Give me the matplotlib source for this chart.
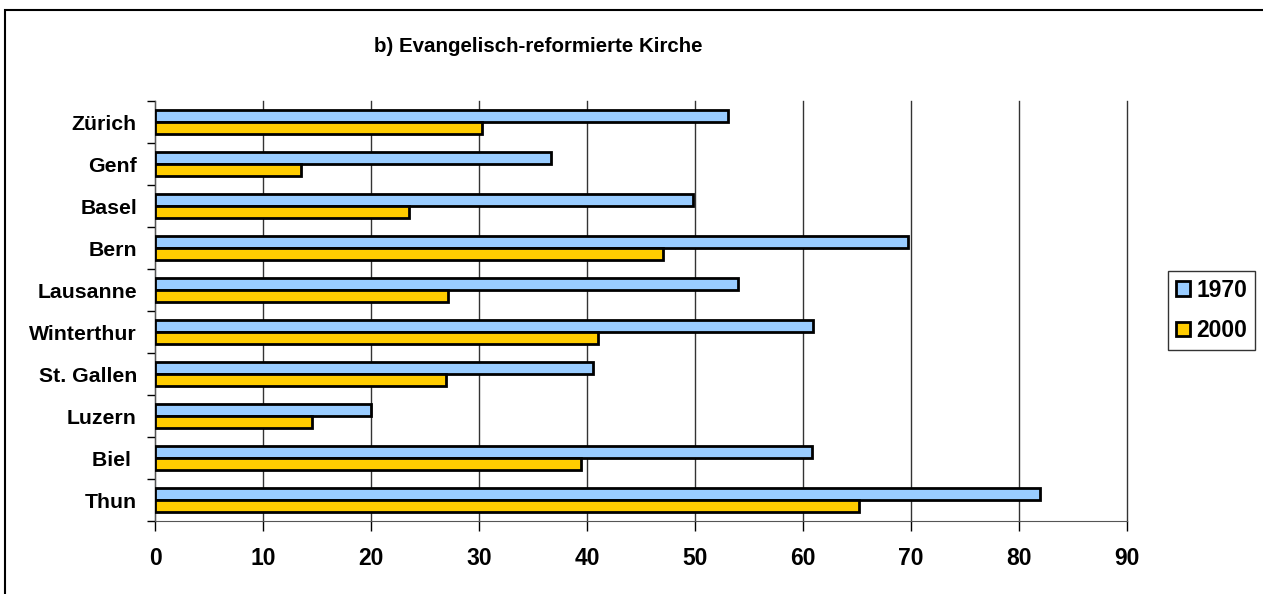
import numpy as np
import matplotlib
matplotlib.use("Agg")
import matplotlib.pyplot as plt
from matplotlib.patches import Rectangle

plt.rcParams['font.family'] = ['Liberation Sans', 'DejaVu Sans']
plt.rcParams['font.weight'] = 'bold'

# data
cities = ["Zürich", "Genf", "Basel", "Bern", "Lausanne", "Winterthur",
          "St. Gallen", "Luzern", "Biel ", "Thun"]
val_1970 = [53.1, 36.7, 49.8, 69.7, 54.0, 60.9, 40.6, 20.0, 60.8, 81.9]
val_2000 = [30.3, 13.5, 23.5, 47.0, 27.1, 41.0, 26.9, 14.5, 39.4, 65.2]
series_names = ["1970", "2000"]
x_ticks = list(range(0, 100, 10))

fig = plt.figure(figsize=(12.63, 5.94), dpi=100)
ax = fig.add_axes([155/1263, 1-521/594, 972/1263, 420/594])

# outer chart border (only top & left visible in original)
fig.patches.append(Rectangle((5/1263, -0.1), 1.2, 1 - 10/594 + 0.1,
                             transform=fig.transFigure, fill=False,
                             edgecolor='black', linewidth=1.5))

y = np.arange(len(cities))
h = 0.286
b1 = ax.barh(y - h/2, val_1970, height=h, color='#99CCFF', edgecolor='black',
             linewidth=2.0, label=series_names[0], zorder=3)
b2 = ax.barh(y + h/2, val_2000, height=h, color='#FFCC00', edgecolor='black',
             linewidth=2.0, label=series_names[1], zorder=3)

ax.set_xlim(0, 90)
ax.set_ylim(len(cities) - 0.5, -0.5)
ax.set_xticks(x_ticks)
ax.set_xticklabels([str(t) for t in x_ticks], fontsize=16.5, fontweight='bold')
ax.set_yticks(y)
ax.set_yticklabels(cities, fontsize=15.3, fontweight='bold')
ax.set_yticks(np.arange(len(cities) + 1) - 0.5, minor=True)
ax.tick_params(axis='y', which='major', length=0, pad=13)
ax.tick_params(axis='y', which='minor', length=6, width=1, direction='out')
ax.tick_params(axis='x', which='major', length=7, width=1, direction='out', pad=12)

ax.grid(axis='x', color='#333333', linewidth=1, zorder=0)
for gl in ax.get_xgridlines():
    gl.set_clip_on(False)
ax.set_axisbelow(True)
for s in ['top', 'right']:
    ax.spines[s].set_visible(False)
ax.spines['left'].set_color('#555555')
ax.spines['bottom'].set_color('#555555')

fig.text(538/1263, 1-46/594, "b) Evangelisch-reformierte Kirche", ha='center', va='center',
         fontsize=14.8, fontweight='bold')

leg = fig.legend(handles=[b1, b2], loc='center', bbox_to_anchor=(1211.5/1263, 1-310.5/594),
                 fontsize=16.5, frameon=True, fancybox=False, edgecolor='black',
                 handlelength=0.62, handleheight=0.62, handletextpad=0.25,
                 borderpad=0.35, labelspacing=0.75, borderaxespad=0)
leg.get_frame().set_linewidth(1)

plt.savefig("out.png", dpi=100)
